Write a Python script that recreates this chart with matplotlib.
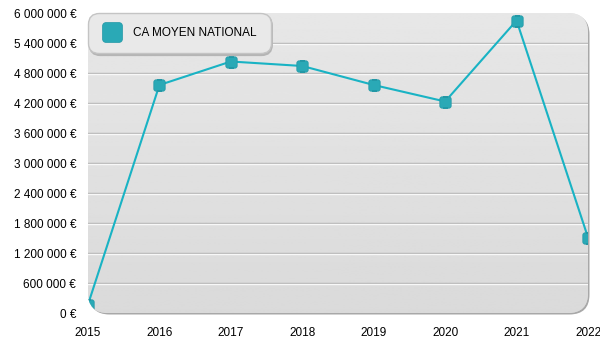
import matplotlib
matplotlib.use("Agg")
import matplotlib.pyplot as plt
import numpy as np
from matplotlib.patches import FancyBboxPatch
from matplotlib.lines import Line2D
import matplotlib.transforms as mtransforms

years = [2015, 2016, 2017, 2018, 2019, 2020, 2021, 2022]
ca_moyen = [170000, 4560000, 5030000, 4940000, 4560000, 4230000, 5850000, 1510000]
series_label = "CA MOYEN NATIONAL"
y_ticks = [0, 600000, 1200000, 1800000, 2400000, 3000000, 3600000, 4200000, 4800000, 5400000, 6000000]

plt.rcParams['font.family'] = ['Liberation Sans', 'DejaVu Sans']

fig = plt.figure(figsize=(6, 3.5), dpi=100)
fig.patch.set_facecolor('white')
ax = fig.add_axes([88/600, 37/350, 500/600, 300/350])
ax.set_facecolor('none')
for s in ax.spines.values():
    s.set_visible(False)

# shadow
shadow = FancyBboxPatch((0, 0), 1, 1, boxstyle="round,pad=0,rounding_size=0.04",
                        transform=ax.transAxes + mtransforms.ScaledTranslation(1.5/100, -1.5/100, fig.dpi_scale_trans),
                        facecolor='#a8a8a8', edgecolor='none', zorder=0, clip_on=False,
                        mutation_aspect=500/300)
ax.add_patch(shadow)
bg = FancyBboxPatch((0, 0), 1, 1, boxstyle="round,pad=0,rounding_size=0.04",
                    transform=ax.transAxes, facecolor='#e0e0e0', edgecolor='none',
                    zorder=0.5, clip_on=False, mutation_aspect=500/300)
ax.add_patch(bg)
grad = np.linspace(0.905, 0.855, 256).reshape(-1, 1)
im = ax.imshow(grad, cmap='gray', vmin=0, vmax=1, aspect='auto',
               extent=[0, 1, 0, 1], transform=ax.transAxes, zorder=0.6)
im.set_clip_path(bg)

# grid lines
ytrans = ax.get_yaxis_transform()
white_trans = ytrans + mtransforms.ScaledTranslation(0, -1/100, fig.dpi_scale_trans)
for t in y_ticks[1:-1]:
    ax.plot([0, 1], [t, t], color='#b2b2b2', lw=1, zorder=1, transform=ytrans)
    ax.plot([0, 1], [t, t], color='#f8f8f8', lw=1, zorder=1, transform=white_trans)

# rounded square marker
rs = FancyBboxPatch((-0.5, -0.5), 1, 1, boxstyle="round,pad=0,rounding_size=0.2")
marker_path = rs.get_path()

line, = ax.plot(years, ca_moyen, color='#19b3c4', lw=1.5, marker=marker_path,
                markersize=8.2, markerfacecolor='#2aa9b6', markeredgecolor='#2398a6',
                markeredgewidth=0.5, zorder=3)
line.set_clip_path(bg)

ax.set_xlim(years[0], years[-1])
ax.set_ylim(y_ticks[0], y_ticks[-1])
ax.set_yticks(y_ticks)
ax.set_yticklabels([(f"{v:,}".replace(",", " ") + " €") for v in y_ticks])
ax.set_xticks(years)
ax.set_xticklabels([str(y) for y in years])
ax.tick_params(axis='both', length=0, labelsize=8.5, colors='black')
ax.tick_params(axis='y', pad=8.5)
ax.tick_params(axis='x', pad=10)

handle = Line2D([], [], linestyle='none', marker=marker_path, markersize=14.4,
                markerfacecolor='#2aa9b6', markeredgecolor='#2398a6', markeredgewidth=0.5)
leg = ax.legend([handle], [series_label], loc='upper left', bbox_to_anchor=(0, 1),
                borderaxespad=0, frameon=True, fancybox=True,
                shadow={'ox': 1.2, 'oy': -1.5, 'color': '#b5b5b5', 'alpha': 1},
                fontsize=8.5, borderpad=1.2, handletextpad=0.9, handlelength=1.7,
                facecolor='#e9e9e9', edgecolor='#c4c4c4', framealpha=1)
leg.get_frame().set_boxstyle("round,pad=0,rounding_size=0.9")
leg.set_zorder(5)

fig.savefig("out.png", dpi=100, facecolor='white')
